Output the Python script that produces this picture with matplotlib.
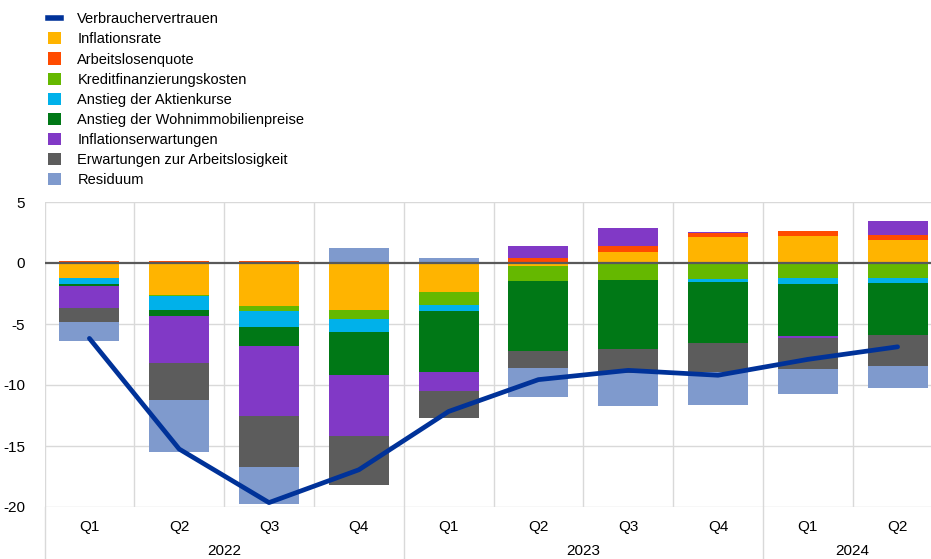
import numpy as np
import matplotlib.pyplot as plt
from matplotlib.patches import Patch
from matplotlib.lines import Line2D
import matplotlib.transforms as mtransforms

plt.rcParams['font.family'] = ['Liberation Sans', 'DejaVu Sans']
plt.rcParams['axes.unicode_minus'] = False

quarters = ['Q1', 'Q2', 'Q3', 'Q4', 'Q1', 'Q2', 'Q3', 'Q4', 'Q1', 'Q2']
years = ['2022', '2023', '2024']
year_spans = [(0, 4), (4, 8), (8, 10)]

# Beiträge (Prozentpunkte), Reihenfolge wie in der Legende
inflationsrate = [-1.20, -2.61, -3.52, -3.85, -2.39, -0.28, 0.93, 2.12, 2.23, 1.92]
arbeitslosenquote = [0.20, 0.15, 0.15, 0.00, 0.12, 0.41, 0.44, 0.33, 0.38, 0.36]
kreditkosten = [0.00, -0.08, -0.41, -0.71, -1.04, -1.23, -1.37, -1.32, -1.24, -1.24]
aktienkurse = [-0.52, -1.15, -1.29, -1.07, -0.52, 0.00, 0.00, -0.25, -0.52, -0.41]
wohnimmobilien = [-0.14, -0.52, -1.62, -3.52, -5.00, -5.69, -5.71, -4.95, -4.26, -4.29]
inflationserwartungen = [-1.84, -3.87, -5.66, -5.00, -1.57, 0.95, 1.46, 0.08, -0.10, 1.18]
erwartungen_al = [-1.13, -2.97, -4.26, -4.07, -2.17, -1.43, -1.95, -2.45, -2.58, -2.50]
residuum = [-1.57, -4.29, -3.02, 1.26, 0.30, -2.36, -2.68, -2.69, -2.00, -1.84]

verbrauchervertrauen = [-6.18, -15.25, -19.64, -16.95, -12.17, -9.56, -8.80, -9.20, -7.90, -6.87]

series = [
    ('Inflationsrate', inflationsrate, '#FFB400'),
    ('Arbeitslosenquote', arbeitslosenquote, '#FF4B00'),
    ('Kreditfinanzierungskosten', kreditkosten, '#65B800'),
    ('Anstieg der Aktienkurse', aktienkurse, '#00B1EA'),
    ('Anstieg der Wohnimmobilienpreise', wohnimmobilien, '#007816'),
    ('Inflationserwartungen', inflationserwartungen, '#8139C6'),
    ('Erwartungen zur Arbeitslosigkeit', erwartungen_al, '#5C5C5C'),
    ('Residuum', residuum, '#7F9ACD'),
]
line_color = '#003299'

fig = plt.figure(figsize=(9.31, 5.59), dpi=100)
ax = fig.add_axes([44.5 / 931, 1 - 507 / 559, 898 / 931, 305 / 559])

x = np.arange(len(quarters))
pos_bottom = np.zeros(len(x))
neg_bottom = np.zeros(len(x))
for name, vals, col in series:
    v = np.array(vals)
    bottom = np.where(v >= 0, pos_bottom, neg_bottom)
    ax.bar(x, v, width=0.67, bottom=bottom, color=col, edgecolor='none', zorder=2)
    pos_bottom += np.where(v >= 0, v, 0)
    neg_bottom += np.where(v < 0, v, 0)

ax.plot(x, verbrauchervertrauen, color=line_color, lw=3.4, zorder=4,
        solid_capstyle='round', solid_joinstyle='round')
ax.axhline(0, color='#595959', lw=1.6, zorder=3)

ax.set_xlim(-0.5, len(x) - 0.5)
ax.set_ylim(-20, 5)
ax.set_yticks([5, 0, -5, -10, -15, -20])
ax.tick_params(axis='y', length=0, pad=14, labelsize=11)

# Gitterlinien
for yv in [5, -5, -10, -15, -20]:
    ax.axhline(yv, color='#D9D9D9', lw=1.0, zorder=1)
for xb in np.arange(-0.5, len(x), 1.0):
    ax.axvline(xb, color='#D9D9D9', lw=1.0, zorder=1)
for s in ax.spines.values():
    s.set_visible(False)

# Kategorien-Achse
ax.set_xticks(x)
ax.set_xticklabels(quarters)
ax.tick_params(axis='x', length=0, pad=9, labelsize=11)
trans = mtransforms.blended_transform_factory(ax.transData, ax.transAxes)
for yr, (a, b) in zip(years, year_spans):
    ax.text((a + b - 1) / 2, -0.143, yr, transform=trans, ha='center', va='center', fontsize=11)
for xb in [-0.5, 3.5, 7.5]:
    ax.add_line(Line2D([xb, xb], [0, -0.2], transform=trans, color='#D9D9D9', lw=1.0, clip_on=False))

handles = [Line2D([], [], color=line_color, lw=4)]
handles += [Patch(facecolor=c, edgecolor='none') for _, _, c in series]
labels = ['Verbrauchervertrauen'] + [n for n, _, _ in series]
fig.legend(handles, labels, loc='upper left', bbox_to_anchor=(38 / 931, 1 - 2 / 559),
           frameon=False, fontsize=10.5, handlelength=0.9, handleheight=0.9,
           handletextpad=1.1, labelspacing=0.415, borderpad=0.2)

fig.savefig('out.png', dpi=100)
